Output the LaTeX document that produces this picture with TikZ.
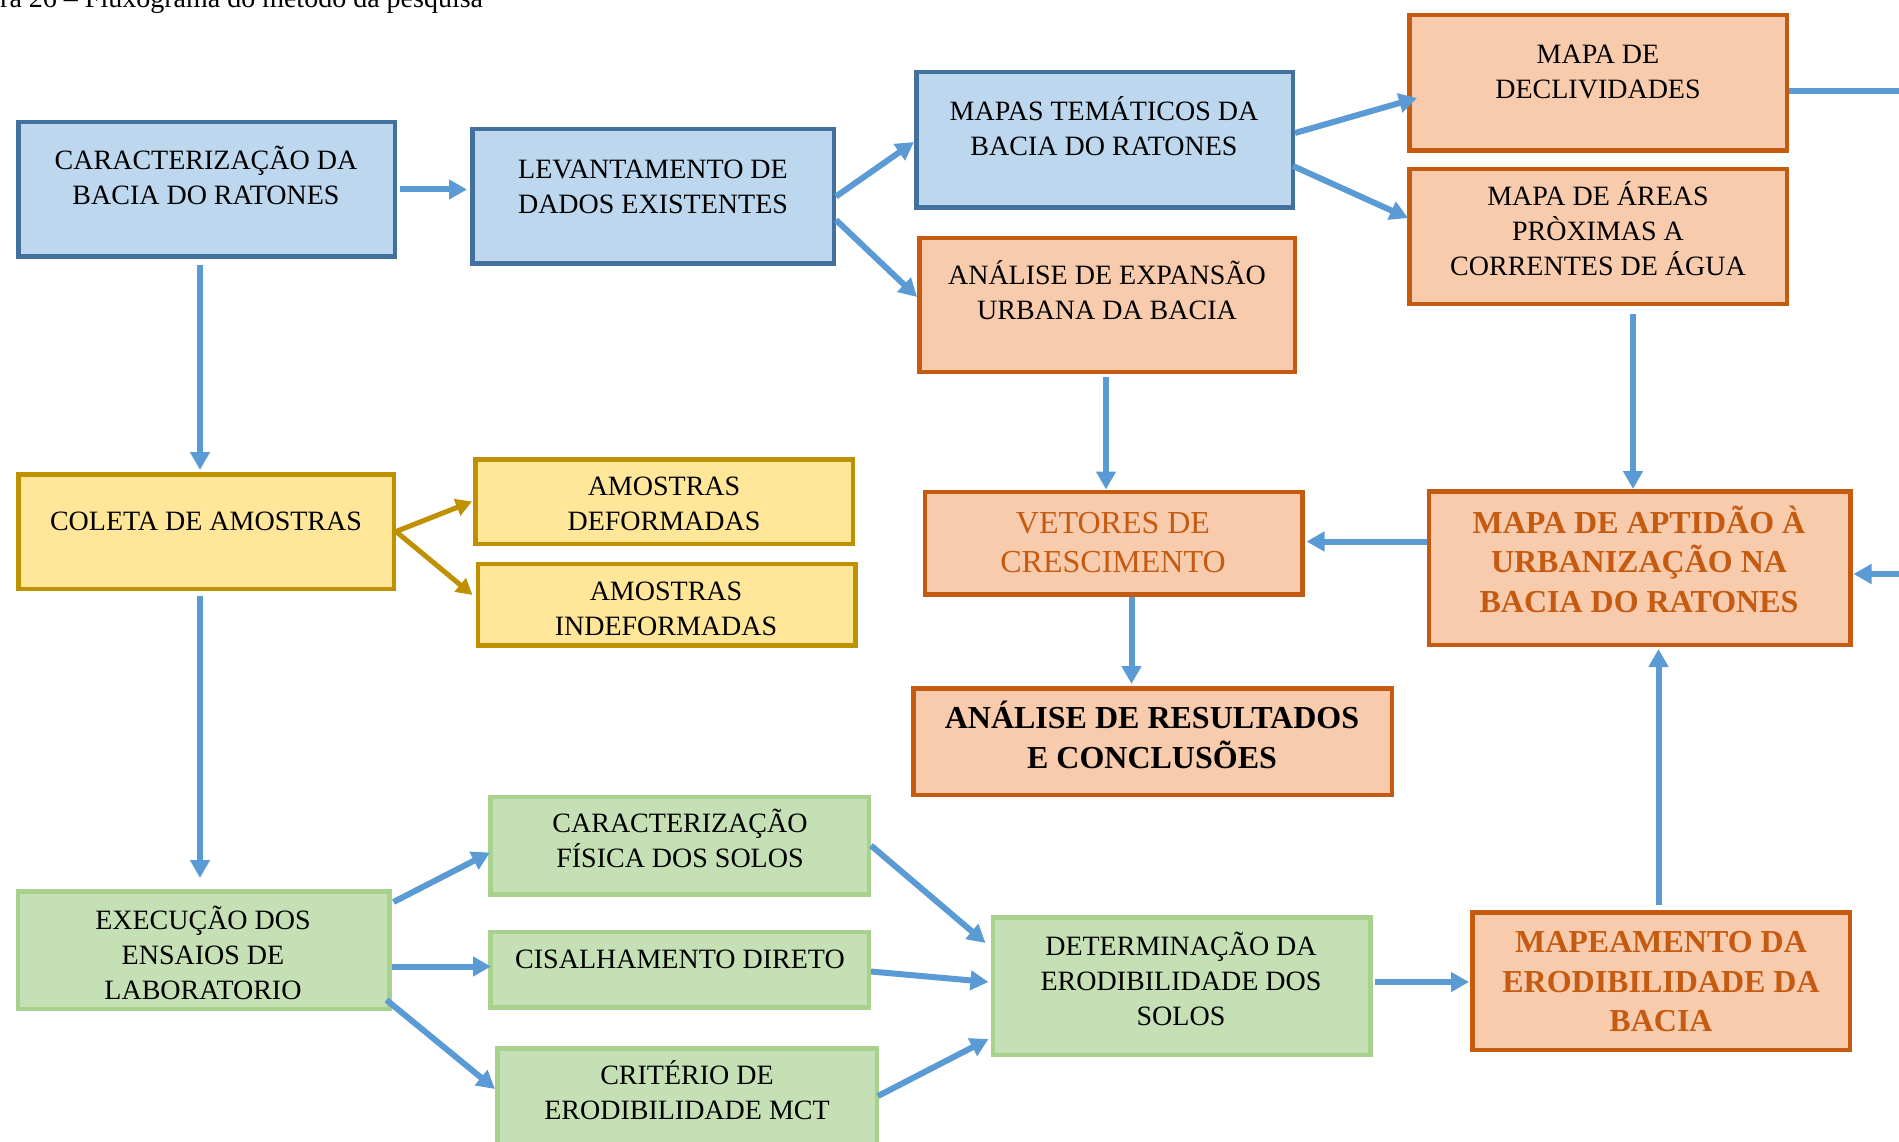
\documentclass[tikz,border=0pt]{standalone}
\usepackage{fontspec}
\setmainfont{Liberation Serif}
\usetikzlibrary{arrows.meta,calc}
\definecolor{bfill}{HTML}{BDD7EE}
\definecolor{bdraw}{HTML}{41719C}
\definecolor{ofill}{HTML}{F8CBAD}
\definecolor{odraw}{HTML}{C55A11}
\definecolor{yfill}{HTML}{FFE699}
\definecolor{ydraw}{HTML}{BF9000}
\definecolor{gfill}{HTML}{C5E0B4}
\definecolor{gdraw}{HTML}{A9D18E}
\definecolor{arrowc}{HTML}{5B9BD5}
\tikzset{
  box/.style={rectangle, line width=4.5pt, inner sep=0pt},
  bluebox/.style={box, draw=bdraw, fill=bfill},
  orangebox/.style={box, draw=odraw, fill=ofill},
  yellowbox/.style={box, draw=ydraw, fill=yfill},
  greenbox/.style={box, draw=gdraw, fill=gfill},
  txt/.style={align=center, inner sep=0pt, font=\fontsize{28}{35}\selectfont},
  otxt/.style={align=center, inner sep=0pt, text=odraw, font=\fontsize{32}{39}\selectfont},
  btxt/.style={align=center, inner sep=0pt, font=\fontsize{32}{39.5}\selectfont\bfseries},
  acc/.style={yshift=2.5pt},
  arr/.style={draw=arrowc, line width=6pt, -{Triangle[length=18pt,width=19pt]}},
  plainline/.style={draw=arrowc, line width=6pt},
  garr/.style={draw=ydraw, line width=5pt, -{Triangle[length=16pt,width=17pt]}},
}
\begin{document}
\begin{tikzpicture}[x=1pt,y=-1pt]
\useasboundingbox[fill=white] (0,0) rectangle (1899,1142);

% caption (cut at top)
\node[anchor=base west, inner sep=0pt, font=\fontsize{28}{34}\selectfont] (cap) at (0,7.5) {ra 26 – Fluxograma do método da pesquisa};

% boxes
\node[bluebox, minimum width=376.5, minimum height=134.5] (caract) at (206.5,189.5) {};
\node[bluebox, minimum width=361.5, minimum height=134.5] (levant) at (653,196.5) {};
\node[bluebox, minimum width=376.5, minimum height=135.5] (mapas) at (1104.5,140) {};
\node[orangebox, minimum width=375.5, minimum height=133.5] (expans) at (1107,305) {};
\node[orangebox, minimum width=377.5, minimum height=135.5] (decliv) at (1598,83) {};
\node[orangebox, minimum width=377.5, minimum height=134.5] (areas) at (1598,236.5) {};
\node[yellowbox, minimum width=375.5, minimum height=114.5] (coleta) at (206,531.5) {};
\node[yellowbox, minimum width=377.5, minimum height=84.5] (deform) at (664,501.5) {};
\node[yellowbox, minimum width=377.5, minimum height=81.5] (indef) at (666.5,604.5) {};
\node[orangebox, minimum width=377.5, minimum height=102.5] (vetores) at (1113.5,543) {};
\node[orangebox, minimum width=421.5, minimum height=153.5] (aptidao) at (1639.5,568) {};
\node[orangebox, minimum width=478.5, minimum height=106.5] (result) at (1152.5,741.5) {};
\node[greenbox, minimum width=378.5, minimum height=97.5] (fisica) at (679.5,845.5) {};
\node[greenbox, minimum width=371.5, minimum height=117.5] (execucao) at (203.5,950) {};
\node[greenbox, minimum width=378.5, minimum height=75.5] (cisalh) at (679.5,969.5) {};
\node[greenbox, minimum width=379.5, minimum height=101.5] (criterio) at (687,1099) {};
\node[greenbox, minimum width=377.5, minimum height=137.5] (determ) at (1181.5,986) {};
\node[orangebox, minimum width=377.5, minimum height=137.5] (mapeam) at (1661,981) {};

% texts
\node[txt, acc] (t-caract) at (206,178) {CARACTERIZAÇÃO DA\\BACIA DO RATONES};
\node[txt] (t-levant) at (653,186.5) {LEVANTAMENTO DE\\DADOS EXISTENTES};
\node[txt, acc] (t-mapas) at (1104,128.5) {MAPAS TEMÁTICOS DA\\BACIA DO RATONES};
\node[txt, acc] (t-expans) at (1107,293) {ANÁLISE DE EXPANSÃO\\URBANA DA BACIA};
\node[txt] (t-decliv) at (1598,71.5) {MAPA DE\\DECLIVIDADES};
\node[txt, yshift=1pt] (t-areas) at (1598,230) {MAPA DE ÁREAS\\PRÒXIMAS A\\CORRENTES DE ÁGUA};
\node[txt] (t-coleta) at (206,521) {COLETA DE AMOSTRAS};
\node[txt] (t-deform) at (664,504) {AMOSTRAS\\DEFORMADAS};
\node[txt] (t-indef) at (666,608.5) {AMOSTRAS\\INDEFORMADAS};
\node[otxt] (t-vetores) at (1113,542.5) {VETORES DE\\CRESCIMENTO};
\node[btxt, text=odraw, acc] (t-aptidao) at (1639,561.5) {MAPA DE APTIDÃO À\\URBANIZAÇÃO NA\\BACIA DO RATONES};
\node[btxt, acc] (t-result) at (1152,737.5) {ANÁLISE DE RESULTADOS\\E CONCLUSÕES};
\node[txt, acc] (t-fisica) at (680,841) {CARACTERIZAÇÃO\\FÍSICA DOS SOLOS};
\node[txt] (t-execucao) at (203,953) {EXECUÇÃO DOS\\ENSAIOS DE\\LABORATORIO};
\node[txt] (t-cisalh) at (680,959) {CISALHAMENTO DIRETO};
\node[txt, acc] (t-criterio) at (687,1093) {CRITÉRIO DE\\ERODIBILIDADE MCT};
\node[txt, yshift=1pt] (t-determ) at (1181,980) {DETERMINAÇÃO DA\\ERODIBILIDADE DOS\\SOLOS};
\node[btxt, text=odraw] (t-mapeam) at (1661,982) {MAPEAMENTO DA\\ERODIBILIDADE DA\\BACIA};

% free ends at the right edge
\coordinate (r1) at (1905,91);
\coordinate (r2) at (1905,574);

% connectors
\draw[arr] ([xshift=3pt]caract.east) -- ([xshift=-3pt]caract.east -| levant.west);
\draw[arr] ([xshift=-6.5pt,yshift=-6pt]caract.south) -- ([xshift=-6.5pt,yshift=2pt]caract.south |- coleta.north);
\draw[arr] (levant.east) -- ([yshift=-2pt]mapas.west);
\draw[arr] ([yshift=-23.5pt]levant.east) -- ([yshift=8pt]expans.west);
\draw[arr] ([yshift=7pt]mapas.east) -- ([xshift=10pt,yshift=-15pt]decliv.west);
\draw[arr] ([xshift=-2pt,yshift=-26pt]mapas.east) -- ([xshift=1pt,yshift=18.5pt]areas.west);
\draw[plainline] ([yshift=-8pt]decliv.east) -- (r1);
\draw[arr] (r2) -- ([xshift=1pt,yshift=-6pt]aptidao.east);
\draw[arr] ([xshift=35pt,yshift=-8pt]areas.south) -- ([xshift=35pt]areas.south |- aptidao.north);
\draw[arr] ([xshift=-1pt,yshift=-3pt]expans.south) -- ([xshift=-1pt]expans.south |- vetores.north);
\draw[arr] ([yshift=1.5pt]vetores.east -| aptidao.west) -- ([xshift=2pt,yshift=1.5pt]vetores.east);
\draw[arr] ([xshift=18pt]vetores.south) -- ([xshift=18pt,yshift=2pt]vetores.south |- result.north);
\draw[garr] (coleta.east) -- ([xshift=-1pt]deform.west);
\draw[garr] (coleta.east) -- ([xshift=-3pt,yshift=9.5pt]indef.west);
\draw[arr] ([xshift=-6pt,yshift=-5pt]coleta.south) -- ([xshift=-6pt,yshift=11pt]coleta.south |- execucao.north);
\draw[arr] ([xshift=2pt,yshift=-13pt]execucao.north east) -- ([xshift=2pt,yshift=-7pt]fisica.west);
\draw[arr] ([yshift=3pt]cisalh.west -| execucao.east) -- ([xshift=3pt,yshift=3pt]cisalh.west);
\draw[arr] ([xshift=-5pt,yshift=11pt]execucao.south east) -- ([yshift=10pt]criterio.west);
\draw[arr] (fisica.east) -- ([xshift=-5pt,yshift=43pt]determ.west);
\draw[arr] ([yshift=-2pt]cisalh.east) -- ([xshift=-2pt,yshift=4pt]determ.west);
\draw[arr] ([xshift=-1pt,yshift=3pt]criterio.east) -- ([xshift=-2pt,yshift=-53pt]determ.west);
\draw[arr] ([xshift=2pt,yshift=4pt]determ.east) -- ([xshift=-1pt,yshift=4pt]determ.east -| mapeam.west);
\draw[arr] ([xshift=-2.5pt,yshift=5pt]mapeam.north) -- ([xshift=-2.5pt,yshift=-2pt]mapeam.north |- aptidao.south);
\end{tikzpicture}
\end{document}
